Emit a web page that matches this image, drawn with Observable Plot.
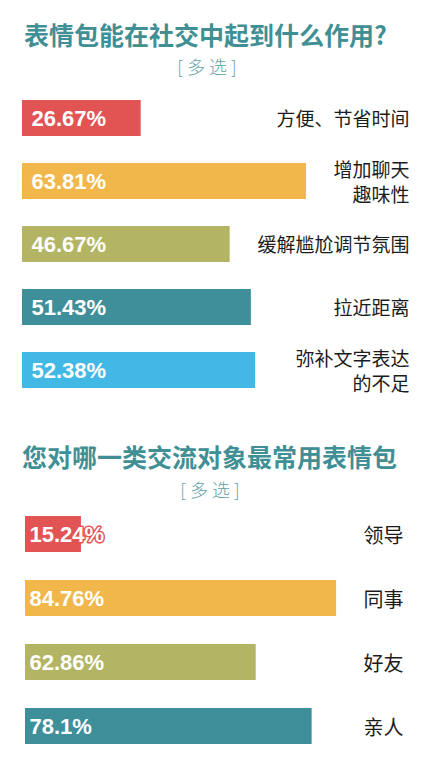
<!DOCTYPE html>
<html><head><meta charset="utf-8">
<script src="https://cdn.jsdelivr.net/npm/d3@7"></script>
<script src="https://cdn.jsdelivr.net/npm/@observablehq/plot@0.6"></script>
<style>
html,body{margin:0;padding:0;background:#fff;}
#page{position:relative;width:433px;height:768px;overflow:hidden;font-family:"Noto Sans CJK SC",sans-serif;}
.title{position:absolute;white-space:nowrap;color:#3f8f95;font-weight:700;line-height:26px;}
.sub{position:absolute;white-space:nowrap;color:#5f9fa4;font-weight:300;font-size:18px;line-height:22px;letter-spacing:4px;transform:translateX(-50%);}
.plot{position:absolute;left:0;}
</style></head>
<body><div id="page">
<div class="title" id="t1" style="left:24px;top:21px;font-size:25px;"></div>
<div class="sub" id="s1" style="left:209px;top:55px;"></div>
<div class="plot" id="p1" style="top:85px;"></div>
<div class="title" id="t2" style="left:22px;top:443px;font-size:25px;"></div>
<div class="sub" id="s2" style="left:212px;top:478px;"></div>
<div class="plot" id="p2" style="top:500px;"></div>
</div>
<script>
// Chart 1
const title1 = "表情包能在社交中起到什么作用?";
const subtitle1 = "[多选]";
const cats1 = ["方便、节省时间", "增加聊天\n趣味性", "缓解尴尬调节氛围", "拉近距离", "弥补文字表达\n的不足"];
const vals1 = [26.67, 63.81, 46.67, 51.43, 52.38];
const labels1 = ["26.67%", "63.81%", "46.67%", "51.43%", "52.38%"];

// Chart 2
const title2 = "您对哪一类交流对象最常用表情包";
const subtitle2 = "[多选]";
const cats2 = ["领导", "同事", "好友", "亲人"];
const vals2 = [15.24, 84.76, 62.86, 78.1];
const labels2 = ["15.24%", "84.76%", "62.86%", "78.1%"];

const palette = ["#e25353", "#f1b74b", "#b3b564", "#3f8f9b", "#42b8e5"];

document.getElementById("t1").textContent = title1;
document.getElementById("s1").textContent = subtitle1;
document.getElementById("t2").textContent = title2;
document.getElementById("s2").textContent = subtitle2;

function makeChart(cats, vals, labels, opt) {
  const data = cats.map((c, i) => ({cat: c, value: vals[i], label: labels[i], color: palette[i]}));
  return Plot.plot({
    width: 433,
    height: opt.height,
    margin: 0,
    marginRight: opt.marginRight,
    style: {background: "transparent", overflow: "visible"},
    x: {domain: [0, 100], range: opt.xRange, axis: null},
    y: {domain: cats, range: opt.yRange, paddingInner: 0.43, paddingOuter: 0.215, axis: null},
    color: {type: "identity"},
    marks: [
      Plot.barX(data, {x: "value", y: "cat", fill: "color"}),
      Plot.text(data, {
        x: 0, y: "cat", text: "label", dx: opt.labelDx, textAnchor: "start",
        fill: "white", stroke: "color", strokeWidth: 3, paintOrder: "stroke",
        fontFamily: "Liberation Sans, Arial, sans-serif", fontWeight: "bold", fontSize: 22,
        letterSpacing: "-0.5px"
      }),
      Plot.text(data, {
        y: "cat", text: "cat", frameAnchor: "right", textAnchor: "end",
        fill: "#1c1c1c", fontFamily: "Noto Sans CJK SC, sans-serif", fontSize: opt.catSize,
        lineHeight: opt.lineHeight
      })
    ]
  });
}

document.getElementById("p1").appendChild(makeChart(cats1, vals1, labels1, {
  height: 320, marginRight: 24, xRange: [22, 467], yRange: [0, 317], labelDx: 9, catSize: 19, lineHeight: 1.3
}));
document.getElementById("p2").appendChild(makeChart(cats2, vals2, labels2, {
  height: 268, marginRight: 30, xRange: [25, 392], yRange: [2, 258.6], labelDx: 4, catSize: 20, lineHeight: 1.3
}));
</script>
</body></html>
